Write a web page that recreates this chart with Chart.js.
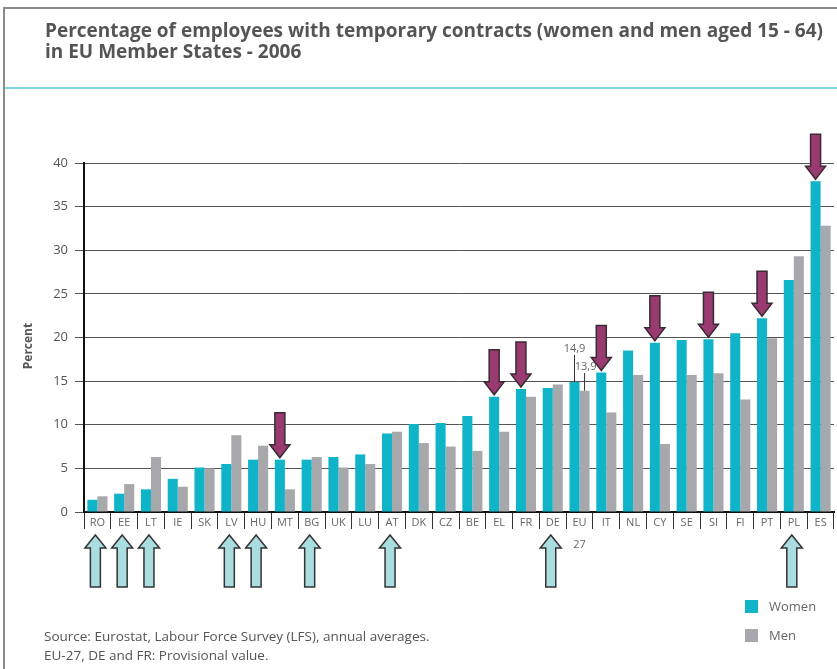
<!DOCTYPE html>
<html>
<head>
<meta charset="utf-8">
<script src="https://cdn.jsdelivr.net/npm/chart.js@4.4.0/dist/chart.umd.min.js"></script>
<style>
  html, body { margin: 0; padding: 0; background: #fff; }
</style>
</head>
<body>
<canvas id="myChart" width="837" height="669"></canvas>
<script>
// data
const countries = ['RO','EE','LT','IE','SK','LV','HU','MT','BG','UK','LU','AT','DK','CZ','BE','EL','FR','DE',['EU','27'],'IT','NL','CY','SE','SI','FI','PT','PL','ES']
const women = [1.4,2.1,2.6,3.8,5.1,5.5,6.0,6.0,6.0,6.3,6.6,9.0,10.1,10.2,11.0,13.2,14.1,14.2,14.9,16.0,18.5,19.4,19.7,19.8,20.5,22.2,26.6,37.9]
const men = [1.8,3.2,6.3,2.9,5.0,8.8,7.6,2.6,6.3,5.1,5.5,9.2,7.9,7.5,7.0,9.2,13.2,14.6,13.9,11.4,15.7,7.8,15.7,15.9,12.9,19.9,29.3,32.8]
const downArrows = ['MT','EL','FR','IT','CY','SI','PT','ES']
const upArrows = ['RO','EE','LT','LV','HU','BG','AT','DE','PL']
const labelled = 'EU'
const titleLines = ['Percentage of employees with temporary contracts (women and men aged 15 - 64)', 'in EU Member States - 2006']
const sourceLines = ['Source: Eurostat, Labour Force Survey (LFS), annual averages.', 'EU-27, DE and FR: Provisional value.']

const WOMEN_COLOR = '#10b4c9'
const MEN_COLOR = '#a7a8ac'
const FONT = "'Open Sans', 'Noto Sans', sans-serif"

const nameOf = c => Array.isArray(c) ? c[0] : c

function downArrow(ctx, x, tip) {
  // purple arrow pointing down at a bar top
  ctx.beginPath()
  ctx.moveTo(x - 5, tip - 45)
  ctx.lineTo(x + 5, tip - 45)
  ctx.lineTo(x + 5, tip - 13)
  ctx.lineTo(x + 10, tip - 13)
  ctx.lineTo(x, tip)
  ctx.lineTo(x - 10, tip - 13)
  ctx.lineTo(x - 5, tip - 13)
  ctx.closePath()
  ctx.fillStyle = '#993a70'
  ctx.fill()
  ctx.lineWidth = 1.5
  ctx.strokeStyle = '#3a2a33'
  ctx.stroke()
}

function upArrow(ctx, x, tip) {
  ctx.beginPath()
  ctx.moveTo(x, tip)
  ctx.lineTo(x + 10.5, tip + 13)
  ctx.lineTo(x + 5, tip + 13)
  ctx.lineTo(x + 5, tip + 52)
  ctx.lineTo(x - 5, tip + 52)
  ctx.lineTo(x - 5, tip + 13)
  ctx.lineTo(x - 10.5, tip + 13)
  ctx.closePath()
  ctx.fillStyle = '#a9dde0'
  ctx.fill()
  ctx.lineWidth = 1.5
  ctx.strokeStyle = '#333'
  ctx.stroke()
}

const decorations = {
  id: 'decorations',
  beforeDraw(chart) {
    const ctx = chart.ctx
    ctx.save()
    // frame
    ctx.strokeStyle = '#8a8a8a'
    ctx.lineWidth = 2
    ctx.beginPath()
    ctx.moveTo(837, 8)
    ctx.lineTo(4, 8)
    ctx.lineTo(4, 669)
    ctx.stroke()
    ctx.strokeStyle = '#7fd3dc'
    ctx.lineWidth = 2
    ctx.beginPath()
    ctx.moveTo(5, 88)
    ctx.lineTo(837, 88)
    ctx.stroke()
    // title
    ctx.fillStyle = '#555'
    ctx.font = 'bold 19px ' + FONT
    ctx.textBaseline = 'alphabetic'
    ctx.textAlign = 'left'
    ctx.fillText(titleLines[0], 45, 37, 778)
    ctx.fillText(titleLines[1], 45, 58, 258)
    // y axis title
    ctx.save()
    ctx.translate(29, 346)
    ctx.rotate(-Math.PI / 2)
    ctx.textAlign = 'center'
    ctx.textBaseline = 'middle'
    ctx.font = 'bold 12px ' + FONT
    ctx.fillStyle = '#555'
    ctx.fillText('Percent', 0, 0)
    ctx.restore()
    ctx.restore()
  },
  afterDraw(chart) {
    const ctx = chart.ctx
    const y = chart.scales.y
    const wMeta = chart.getDatasetMeta(0)
    const mMeta = chart.getDatasetMeta(1)
    const xs = chart.scales.x
    ctx.save()
    countries.forEach((c, i) => {
      const name = nameOf(c)
      if (downArrows.includes(name)) {
        downArrow(ctx, wMeta.data[i].x, y.getPixelForValue(women[i]) - 2)
      }
      if (upArrows.includes(name)) {
        upArrow(ctx, xs.getPixelForValue(i) - 2, 535)
      }
      if (name === labelled) {
        ctx.font = '11px ' + FONT
        ctx.fillStyle = '#666'
        ctx.textAlign = 'center'
        ctx.textBaseline = 'middle'
        const wx = wMeta.data[i].x, mx = mMeta.data[i].x
        ctx.fillText(women[i].toFixed(1).replace('.', ','), wx, 349)
        ctx.fillText(men[i].toFixed(1).replace('.', ','), mx + 1, 367)
        ctx.strokeStyle = '#333'
        ctx.lineWidth = 1
        ctx.beginPath()
        ctx.moveTo(wx, 355)
        ctx.lineTo(wx, y.getPixelForValue(women[i]))
        ctx.moveTo(mx, 373)
        ctx.lineTo(mx, y.getPixelForValue(men[i]))
        ctx.stroke()
      }
    })
    // legend
    ctx.font = '13px ' + FONT
    ctx.textAlign = 'left'
    ctx.textBaseline = 'middle'
    chart.data.datasets.forEach((ds, k) => {
      const top = 600 + k * 29
      ctx.fillStyle = ds.backgroundColor
      ctx.fillRect(745, top, 13, 13)
      ctx.fillStyle = '#666'
      ctx.fillText(ds.label, 769, top + 7)
    })
    // source note
    ctx.font = '13.5px ' + FONT
    ctx.fillStyle = '#555'
    sourceLines.forEach((s, k) => ctx.fillText(s, 44, 637 + k * 19))
    ctx.restore()
  }
}

const ctx = document.getElementById('myChart')
new Chart(ctx, {
  type: 'bar',
  data: {
    labels: countries,
    datasets: [
      { label: 'Women', data: women, backgroundColor: WOMEN_COLOR },
      { label: 'Men', data: men, backgroundColor: MEN_COLOR }
    ]
  },
  options: {
    responsive: false,
    animation: false,
    categoryPercentage: 0.75,
    barPercentage: 1,
    layout: { padding: { top: 163, right: 3, bottom: 0, left: 0 } },
    plugins: {
      legend: { display: false },
      tooltip: { enabled: false }
    },
    scales: {
      x: {
        afterFit: s => { s.height = 157 },
        border: { color: '#111', width: 2 },
        grid: { drawOnChartArea: false, drawTicks: true, tickLength: 17, color: '#333', offset: true },
        ticks: {
          color: '#666',
          padding: -17,
          maxRotation: 0,
          autoSkip: false,
          font: { family: FONT, size: 11, lineHeight: 2 }
        }
      },
      y: {
        min: 0,
        max: 40,
        afterFit: s => { s.width = 84 },
        border: { color: '#111', width: 2 },
        grid: { color: '#555', lineWidth: 1, tickLength: 9 },
        ticks: {
          stepSize: 5,
          color: '#555',
          padding: 7,
          font: { family: FONT, size: 13 }
        }
      }
    }
  },
  plugins: [decorations]
})
</script>
</body>
</html>
